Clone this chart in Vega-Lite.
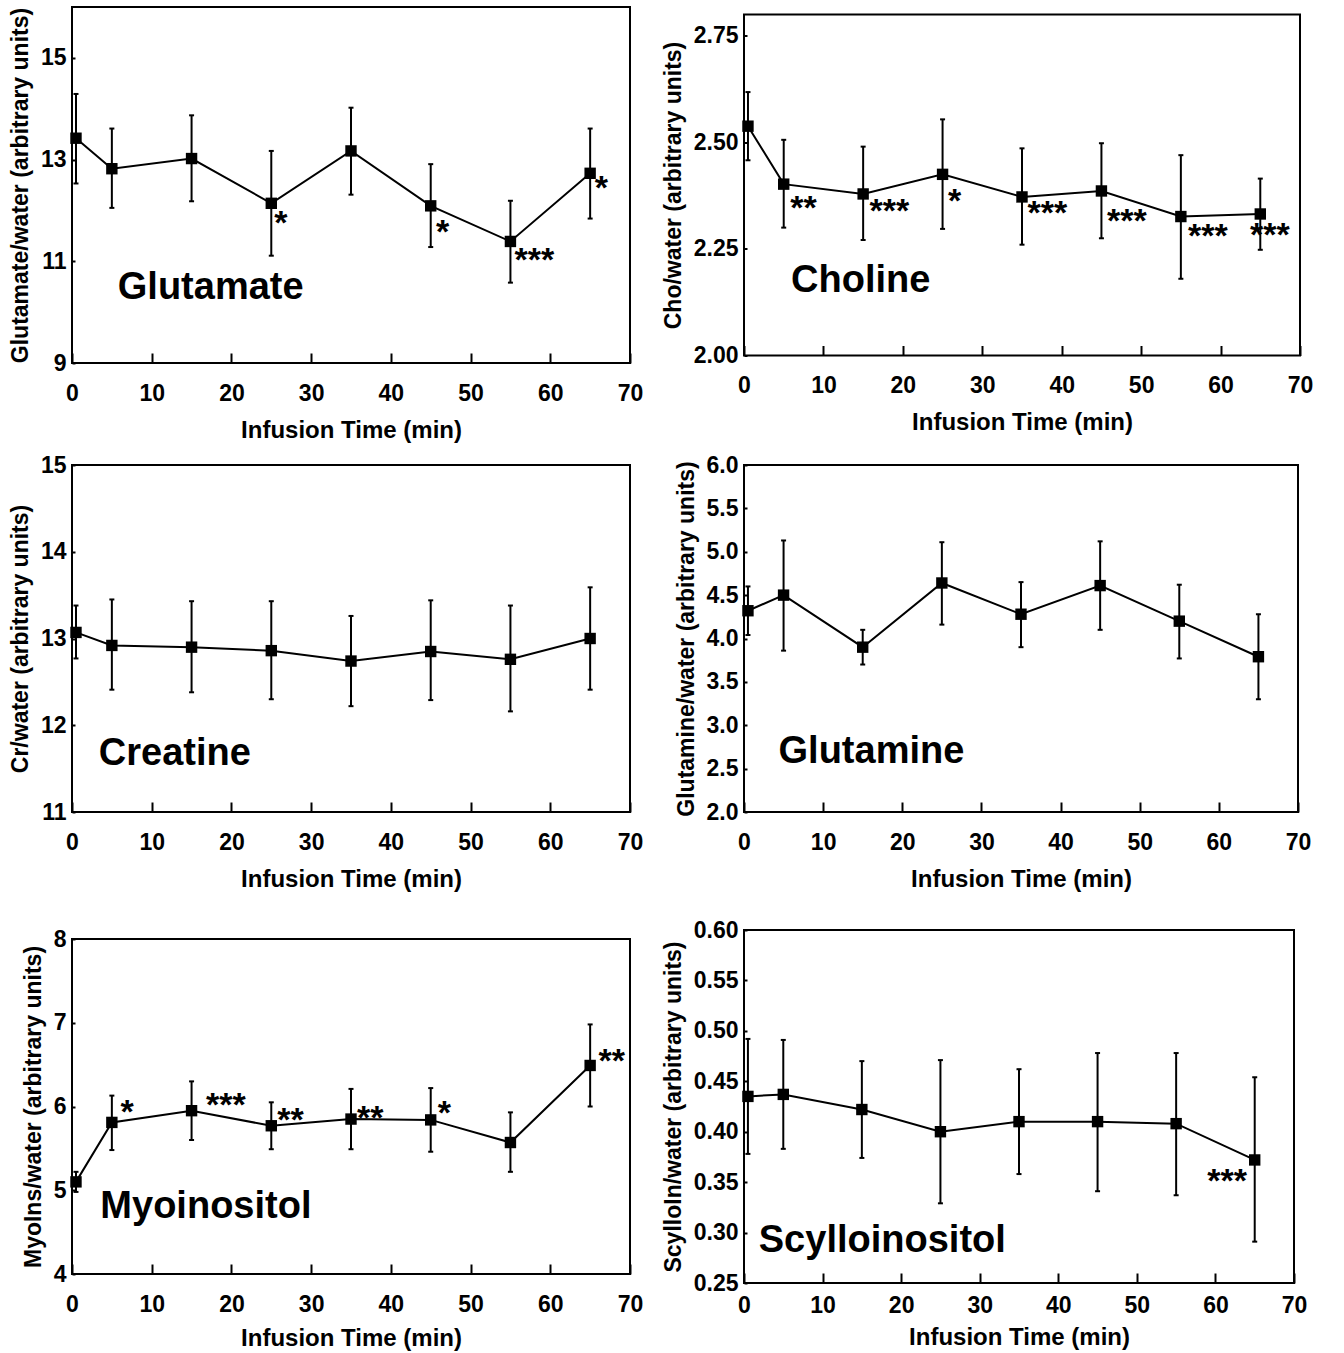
{
"$schema": "https://vega.github.io/schema/vega-lite/v6.json",
"padding": {"left": 8, "top": 6, "right": 5, "bottom": 2},
"datasets": {
"glu": [{"t":0.5,"v":13.42,"lo":12.53,"hi":14.29},{"t":5,"v":12.82,"lo":12.05,"hi":13.61},{"t":15,"v":13.02,"lo":12.18,"hi":13.87},{"t":25,"v":12.14,"lo":11.11,"hi":13.17},{"t":35,"v":13.17,"lo":12.31,"hi":14.02},{"t":45,"v":12.09,"lo":11.28,"hi":12.91},{"t":55,"v":11.39,"lo":10.58,"hi":12.19},{"t":65,"v":12.73,"lo":11.84,"hi":13.61}],
"cho": [{"t":0.5,"v":2.538,"lo":2.458,"hi":2.618},{"t":5,"v":2.402,"lo":2.3,"hi":2.506},{"t":15,"v":2.379,"lo":2.271,"hi":2.49},{"t":25,"v":2.425,"lo":2.297,"hi":2.554},{"t":35,"v":2.372,"lo":2.26,"hi":2.486},{"t":45,"v":2.386,"lo":2.275,"hi":2.498},{"t":55,"v":2.326,"lo":2.18,"hi":2.47},{"t":65,"v":2.332,"lo":2.248,"hi":2.415}],
"cr": [{"t":0.5,"v":13.07,"lo":12.77,"hi":13.38},{"t":5,"v":12.92,"lo":12.41,"hi":13.45},{"t":15,"v":12.9,"lo":12.38,"hi":13.43},{"t":25,"v":12.86,"lo":12.3,"hi":13.43},{"t":35,"v":12.74,"lo":12.22,"hi":13.26},{"t":45,"v":12.85,"lo":12.29,"hi":13.44},{"t":55,"v":12.76,"lo":12.16,"hi":13.38},{"t":65,"v":13.0,"lo":12.41,"hi":13.59}],
"gln": [{"t":0.5,"v":4.32,"lo":4.04,"hi":4.6},{"t":5,"v":4.5,"lo":3.86,"hi":5.13},{"t":15,"v":3.9,"lo":3.7,"hi":4.1},{"t":25,"v":4.64,"lo":4.16,"hi":5.11},{"t":35,"v":4.28,"lo":3.9,"hi":4.65},{"t":45,"v":4.61,"lo":4.1,"hi":5.12},{"t":55,"v":4.2,"lo":3.77,"hi":4.62},{"t":65,"v":3.79,"lo":3.3,"hi":4.28}],
"myo": [{"t":0.5,"v":5.1,"lo":4.98,"hi":5.22},{"t":5,"v":5.81,"lo":5.48,"hi":6.13},{"t":15,"v":5.95,"lo":5.6,"hi":6.3},{"t":25,"v":5.77,"lo":5.49,"hi":6.05},{"t":35,"v":5.85,"lo":5.49,"hi":6.21},{"t":45,"v":5.84,"lo":5.46,"hi":6.22},{"t":55,"v":5.57,"lo":5.22,"hi":5.93},{"t":65,"v":6.49,"lo":6.0,"hi":6.98}],
"scy": [{"t":0.5,"v":0.435,"lo":0.378,"hi":0.492},{"t":5,"v":0.437,"lo":0.383,"hi":0.491},{"t":15,"v":0.422,"lo":0.374,"hi":0.47},{"t":25,"v":0.4,"lo":0.329,"hi":0.471},{"t":35,"v":0.41,"lo":0.358,"hi":0.462},{"t":45,"v":0.41,"lo":0.341,"hi":0.478},{"t":55,"v":0.408,"lo":0.337,"hi":0.478},{"t":65,"v":0.372,"lo":0.291,"hi":0.454}],
"stars": [
{"p":"glu","t":26.2,"v":11.88,"s":"*"},{"p":"glu","t":46.5,"v":11.7,"s":"*"},{"p":"glu","t":58.0,"v":11.15,"s":"***"},{"p":"glu","t":66.4,"v":12.56,"s":"*"},
{"p":"cho","t":7.5,"v":2.36,"s":"**"},{"p":"cho","t":18.3,"v":2.354,"s":"***"},{"p":"cho","t":26.5,"v":2.376,"s":"*"},{"p":"cho","t":38.2,"v":2.349,"s":"***"},{"p":"cho","t":48.2,"v":2.329,"s":"***"},{"p":"cho","t":58.4,"v":2.295,"s":"***"},{"p":"cho","t":66.2,"v":2.297,"s":"***"},
{"p":"myo","t":6.9,"v":6.01,"s":"*"},{"p":"myo","t":19.3,"v":6.09,"s":"***"},{"p":"myo","t":27.4,"v":5.91,"s":"**"},{"p":"myo","t":37.4,"v":5.94,"s":"**"},{"p":"myo","t":46.7,"v":6.0,"s":"*"},{"p":"myo","t":67.7,"v":6.62,"s":"**"},
{"p":"scy","t":61.5,"v":0.357,"s":"***"}
],
"names": [
{"p":"glu","t":17.4,"v":10.47,"s":"Glutamate"},
{"p":"cho","t":14.7,"v":2.175,"s":"Choline"},
{"p":"cr","t":12.9,"v":11.67,"s":"Creatine"},
{"p":"gln","t":16.1,"v":2.69,"s":"Glutamine"},
{"p":"myo","t":16.8,"v":4.8,"s":"Myoinositol"},
{"p":"scy","t":17.6,"v":0.292,"s":"Scylloinositol"}
]
},
"config": {
"font": "Liberation Sans",
"view": {"stroke": "black", "strokeWidth": 2},
"axis": {"labelFont": "Liberation Sans", "labelFontWeight": "bold", "labelFontSize": 23, "labelColor": "black", "titleFont": "Liberation Sans", "titleFontWeight": "bold", "titleFontSize": 24, "titleColor": "black", "grid": false, "domain": false, "tickColor": "black", "labelFlush": false, "labelOverlap": false},
"axisX": {"tickSize": -10, "tickWidth": 2, "labelPadding": 29, "titlePadding": 13},
"axisY": {"tickSize": -3, "tickWidth": 2, "labelPadding": 9, "titlePadding": 8, "titleFontSize": 23},
"text": {"font": "Liberation Sans", "fontWeight": "bold", "color": "black"}
},
"spacing": 26,
"vconcat": [
{
"spacing": 10,
"vconcat": [
{
"bounds": "flush", "spacing": 114, "center": true,
"hconcat": [
{
"width": 558, "height": 356,
"encoding": {"x": {"field": "t", "type": "quantitative", "scale": {"domain": [0,70]}, "axis": {"values": [0,10,20,30,40,50,60,70]}, "title": "Infusion Time (min)"}},
"layer": [
{"data": {"name": "glu"}, "mark": {"type": "rule", "color": "black", "strokeWidth": 2}, "encoding": {"y": {"field": "lo", "type": "quantitative", "scale": {"domain": [9,16]}, "axis": {"values": [9,11,13,15], "format": "d"}, "title": "Glutamate/water (arbitrary units)"}, "y2": {"field": "hi"}}},
{"data": {"name": "glu"}, "mark": {"type": "tick", "orient": "horizontal", "color": "black", "size": 5, "thickness": 2, "opacity": 1}, "encoding": {"y": {"field": "lo", "type": "quantitative", "title": "Glutamate/water (arbitrary units)"}}},
{"data": {"name": "glu"}, "mark": {"type": "tick", "orient": "horizontal", "color": "black", "size": 5, "thickness": 2, "opacity": 1}, "encoding": {"y": {"field": "hi", "type": "quantitative", "title": "Glutamate/water (arbitrary units)"}}},
{"data": {"name": "glu"}, "mark": {"type": "line", "color": "black", "strokeWidth": 2}, "encoding": {"y": {"field": "v", "type": "quantitative", "title": "Glutamate/water (arbitrary units)"}}},
{"data": {"name": "glu"}, "mark": {"type": "square", "color": "black", "size": 130, "opacity": 1}, "encoding": {"y": {"field": "v", "type": "quantitative", "title": "Glutamate/water (arbitrary units)"}}},
{"data": {"name": "stars"}, "transform": [{"filter": "datum.p == 'glu'"}], "mark": {"type": "text", "fontSize": 34, "baseline": "middle", "dy": 7}, "encoding": {"y": {"field": "v", "type": "quantitative", "title": "Glutamate/water (arbitrary units)"}, "text": {"field": "s"}}},
{"data": {"name": "names"}, "transform": [{"filter": "datum.p == 'glu'"}], "mark": {"type": "text", "fontSize": 38, "baseline": "middle"}, "encoding": {"y": {"field": "v", "type": "quantitative", "title": "Glutamate/water (arbitrary units)"}, "text": {"field": "s"}}}
]
},
{
"width": 556, "height": 341,
"encoding": {"x": {"field": "t", "type": "quantitative", "scale": {"domain": [0,70]}, "axis": {"values": [0,10,20,30,40,50,60,70]}, "title": "Infusion Time (min)"}},
"layer": [
{"data": {"name": "cho"}, "mark": {"type": "rule", "color": "black", "strokeWidth": 2}, "encoding": {"y": {"field": "lo", "type": "quantitative", "scale": {"domain": [2,2.75]}, "axis": {"values": [2,2.25,2.5,2.75], "format": ".2f"}, "title": "Cho/water (arbitrary units)"}, "y2": {"field": "hi"}}},
{"data": {"name": "cho"}, "mark": {"type": "tick", "orient": "horizontal", "color": "black", "size": 5, "thickness": 2, "opacity": 1}, "encoding": {"y": {"field": "lo", "type": "quantitative", "title": "Cho/water (arbitrary units)"}}},
{"data": {"name": "cho"}, "mark": {"type": "tick", "orient": "horizontal", "color": "black", "size": 5, "thickness": 2, "opacity": 1}, "encoding": {"y": {"field": "hi", "type": "quantitative", "title": "Cho/water (arbitrary units)"}}},
{"data": {"name": "cho"}, "mark": {"type": "line", "color": "black", "strokeWidth": 2}, "encoding": {"y": {"field": "v", "type": "quantitative", "title": "Cho/water (arbitrary units)"}}},
{"data": {"name": "cho"}, "mark": {"type": "square", "color": "black", "size": 130, "opacity": 1}, "encoding": {"y": {"field": "v", "type": "quantitative", "title": "Cho/water (arbitrary units)"}}},
{"data": {"name": "stars"}, "transform": [{"filter": "datum.p == 'cho'"}], "mark": {"type": "text", "fontSize": 34, "baseline": "middle", "dy": 7}, "encoding": {"y": {"field": "v", "type": "quantitative", "title": "Cho/water (arbitrary units)"}, "text": {"field": "s"}}},
{"data": {"name": "names"}, "transform": [{"filter": "datum.p == 'cho'"}], "mark": {"type": "text", "fontSize": 38, "baseline": "middle"}, "encoding": {"y": {"field": "v", "type": "quantitative", "title": "Cho/water (arbitrary units)"}, "text": {"field": "s"}}}
]
}
]
},
{
"bounds": "flush", "spacing": 114, "center": true,
"hconcat": [
{
"width": 558, "height": 347,
"encoding": {"x": {"field": "t", "type": "quantitative", "scale": {"domain": [0,70]}, "axis": {"values": [0,10,20,30,40,50,60,70]}, "title": "Infusion Time (min)"}},
"layer": [
{"data": {"name": "cr"}, "mark": {"type": "rule", "color": "black", "strokeWidth": 2}, "encoding": {"y": {"field": "lo", "type": "quantitative", "scale": {"domain": [11,15]}, "axis": {"values": [11,12,13,14,15], "format": "d"}, "title": "Cr/water (arbitrary units)"}, "y2": {"field": "hi"}}},
{"data": {"name": "cr"}, "mark": {"type": "tick", "orient": "horizontal", "color": "black", "size": 5, "thickness": 2, "opacity": 1}, "encoding": {"y": {"field": "lo", "type": "quantitative", "title": "Cr/water (arbitrary units)"}}},
{"data": {"name": "cr"}, "mark": {"type": "tick", "orient": "horizontal", "color": "black", "size": 5, "thickness": 2, "opacity": 1}, "encoding": {"y": {"field": "hi", "type": "quantitative", "title": "Cr/water (arbitrary units)"}}},
{"data": {"name": "cr"}, "mark": {"type": "line", "color": "black", "strokeWidth": 2}, "encoding": {"y": {"field": "v", "type": "quantitative", "title": "Cr/water (arbitrary units)"}}},
{"data": {"name": "cr"}, "mark": {"type": "square", "color": "black", "size": 130, "opacity": 1}, "encoding": {"y": {"field": "v", "type": "quantitative", "title": "Cr/water (arbitrary units)"}}},
{"data": {"name": "names"}, "transform": [{"filter": "datum.p == 'cr'"}], "mark": {"type": "text", "fontSize": 38, "baseline": "middle"}, "encoding": {"y": {"field": "v", "type": "quantitative", "title": "Cr/water (arbitrary units)"}, "text": {"field": "s"}}}
]
},
{
"width": 554, "height": 347,
"encoding": {"x": {"field": "t", "type": "quantitative", "scale": {"domain": [0,70]}, "axis": {"values": [0,10,20,30,40,50,60,70]}, "title": "Infusion Time (min)"}},
"layer": [
{"data": {"name": "gln"}, "mark": {"type": "rule", "color": "black", "strokeWidth": 2}, "encoding": {"y": {"field": "lo", "type": "quantitative", "scale": {"domain": [2,6]}, "axis": {"values": [2,2.5,3,3.5,4,4.5,5,5.5,6], "format": ".1f"}, "title": "Glutamine/water (arbitrary units)"}, "y2": {"field": "hi"}}},
{"data": {"name": "gln"}, "mark": {"type": "tick", "orient": "horizontal", "color": "black", "size": 5, "thickness": 2, "opacity": 1}, "encoding": {"y": {"field": "lo", "type": "quantitative", "title": "Glutamine/water (arbitrary units)"}}},
{"data": {"name": "gln"}, "mark": {"type": "tick", "orient": "horizontal", "color": "black", "size": 5, "thickness": 2, "opacity": 1}, "encoding": {"y": {"field": "hi", "type": "quantitative", "title": "Glutamine/water (arbitrary units)"}}},
{"data": {"name": "gln"}, "mark": {"type": "line", "color": "black", "strokeWidth": 2}, "encoding": {"y": {"field": "v", "type": "quantitative", "title": "Glutamine/water (arbitrary units)"}}},
{"data": {"name": "gln"}, "mark": {"type": "square", "color": "black", "size": 130, "opacity": 1}, "encoding": {"y": {"field": "v", "type": "quantitative", "title": "Glutamine/water (arbitrary units)"}}},
{"data": {"name": "names"}, "transform": [{"filter": "datum.p == 'gln'"}], "mark": {"type": "text", "fontSize": 38, "baseline": "middle"}, "encoding": {"y": {"field": "v", "type": "quantitative", "title": "Glutamine/water (arbitrary units)"}, "text": {"field": "s"}}}
]
}
]
}
]
},
{
"bounds": "flush", "spacing": 114, "center": true,
"hconcat": [
{
"width": 558, "height": 335,
"encoding": {"x": {"field": "t", "type": "quantitative", "scale": {"domain": [0,70]}, "axis": {"values": [0,10,20,30,40,50,60,70], "titlePadding": 10}, "title": "Infusion Time (min)"}},
"layer": [
{"data": {"name": "myo"}, "mark": {"type": "rule", "color": "black", "strokeWidth": 2}, "encoding": {"y": {"field": "lo", "type": "quantitative", "scale": {"domain": [4,8]}, "axis": {"values": [4,5,6,7,8], "format": "d"}, "title": "MyoIns/water (arbitrary units)"}, "y2": {"field": "hi"}}},
{"data": {"name": "myo"}, "mark": {"type": "tick", "orient": "horizontal", "color": "black", "size": 5, "thickness": 2, "opacity": 1}, "encoding": {"y": {"field": "lo", "type": "quantitative", "title": "MyoIns/water (arbitrary units)"}}},
{"data": {"name": "myo"}, "mark": {"type": "tick", "orient": "horizontal", "color": "black", "size": 5, "thickness": 2, "opacity": 1}, "encoding": {"y": {"field": "hi", "type": "quantitative", "title": "MyoIns/water (arbitrary units)"}}},
{"data": {"name": "myo"}, "mark": {"type": "line", "color": "black", "strokeWidth": 2}, "encoding": {"y": {"field": "v", "type": "quantitative", "title": "MyoIns/water (arbitrary units)"}}},
{"data": {"name": "myo"}, "mark": {"type": "square", "color": "black", "size": 130, "opacity": 1}, "encoding": {"y": {"field": "v", "type": "quantitative", "title": "MyoIns/water (arbitrary units)"}}},
{"data": {"name": "stars"}, "transform": [{"filter": "datum.p == 'myo'"}], "mark": {"type": "text", "fontSize": 34, "baseline": "middle", "dy": 7}, "encoding": {"y": {"field": "v", "type": "quantitative", "title": "MyoIns/water (arbitrary units)"}, "text": {"field": "s"}}},
{"data": {"name": "names"}, "transform": [{"filter": "datum.p == 'myo'"}], "mark": {"type": "text", "fontSize": 38, "baseline": "middle"}, "encoding": {"y": {"field": "v", "type": "quantitative", "title": "MyoIns/water (arbitrary units)"}, "text": {"field": "s"}}}
]
},
{
"width": 550, "height": 353,
"encoding": {"x": {"field": "t", "type": "quantitative", "scale": {"domain": [0,70]}, "axis": {"values": [0,10,20,30,40,50,60,70], "labelPadding": 21, "titlePadding": 8}, "title": "Infusion Time (min)"}},
"layer": [
{"data": {"name": "scy"}, "mark": {"type": "rule", "color": "black", "strokeWidth": 2}, "encoding": {"y": {"field": "lo", "type": "quantitative", "scale": {"domain": [0.25,0.6]}, "axis": {"values": [0.25,0.3,0.35,0.4,0.45,0.5,0.55,0.6], "format": ".2f"}, "title": "ScylloIn/water (arbitrary units)"}, "y2": {"field": "hi"}}},
{"data": {"name": "scy"}, "mark": {"type": "tick", "orient": "horizontal", "color": "black", "size": 5, "thickness": 2, "opacity": 1}, "encoding": {"y": {"field": "lo", "type": "quantitative", "title": "ScylloIn/water (arbitrary units)"}}},
{"data": {"name": "scy"}, "mark": {"type": "tick", "orient": "horizontal", "color": "black", "size": 5, "thickness": 2, "opacity": 1}, "encoding": {"y": {"field": "hi", "type": "quantitative", "title": "ScylloIn/water (arbitrary units)"}}},
{"data": {"name": "scy"}, "mark": {"type": "line", "color": "black", "strokeWidth": 2}, "encoding": {"y": {"field": "v", "type": "quantitative", "title": "ScylloIn/water (arbitrary units)"}}},
{"data": {"name": "scy"}, "mark": {"type": "square", "color": "black", "size": 130, "opacity": 1}, "encoding": {"y": {"field": "v", "type": "quantitative", "title": "ScylloIn/water (arbitrary units)"}}},
{"data": {"name": "stars"}, "transform": [{"filter": "datum.p == 'scy'"}], "mark": {"type": "text", "fontSize": 34, "baseline": "middle", "dy": 7}, "encoding": {"y": {"field": "v", "type": "quantitative", "title": "ScylloIn/water (arbitrary units)"}, "text": {"field": "s"}}},
{"data": {"name": "names"}, "transform": [{"filter": "datum.p == 'scy'"}], "mark": {"type": "text", "fontSize": 38, "baseline": "middle"}, "encoding": {"y": {"field": "v", "type": "quantitative", "title": "ScylloIn/water (arbitrary units)"}, "text": {"field": "s"}}}
]
}
]
}
]
}
